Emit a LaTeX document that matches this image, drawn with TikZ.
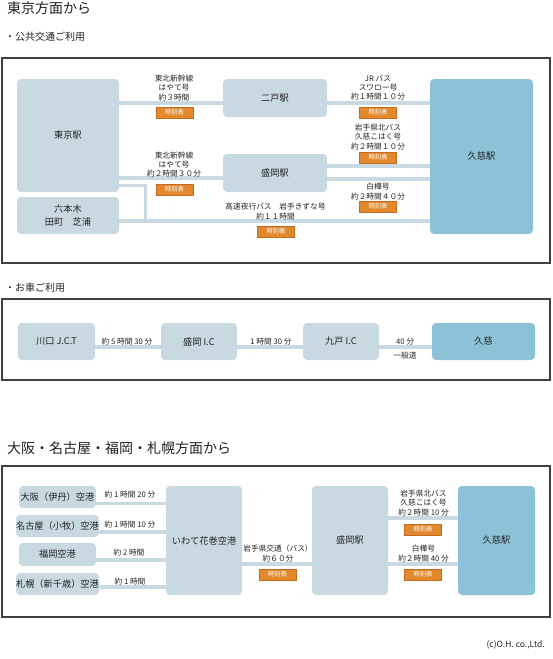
\documentclass[tikz,border=0pt]{standalone}
\usepackage{fontspec}
\setmainfont{Noto Sans CJK JP}
\definecolor{boxgray}{HTML}{C9D9E2}
\definecolor{boxblue}{HTML}{8CC2D7}
\definecolor{btnorange}{HTML}{E2892E}
\definecolor{btnedge}{HTML}{C46A1C}
\definecolor{txt}{HTML}{222222}
\begin{document}
\begin{tikzpicture}[x=1pt,y=-1pt,
    stn/.style={fill=boxgray, rounded corners=4pt, inner sep=0pt, text=txt, font=\fontsize{9.2}{13}\selectfont, align=center},
    goal/.style={stn, fill=boxblue},
    rail/.style={draw=boxgray, line width=3.5pt},
    info/.style={inner sep=0pt, text=txt, font=\fontsize{7.7}{9.2}\selectfont, align=center},
    btn/.style={fill=btnorange, draw=btnedge, line width=0.6pt, text=white, minimum width=37pt, minimum height=11pt, inner sep=0pt, font=\fontsize{6.3}{7}\selectfont},
    panel/.style={draw=black!75, line width=1.2pt},
    heading/.style={anchor=west, inner sep=0pt, text=txt, font=\fontsize{14}{16}\selectfont},
    subhead/.style={anchor=west, inner sep=0pt, text=txt, font=\fontsize{10}{12}\selectfont}]
    \useasboundingbox (0,0) rectangle (552,659);
    % Tokyo
    \node[heading] (h1) at (7,8) {東京方面から};
    \node[subhead] (s1) at (5,37) {・公共交通ご利用};
    \draw[panel] (2,58) rectangle (550,263);
    \node[stn, minimum width=102pt, minimum height=113pt] (tokyo) at (68,135.5) {東京駅};
    \node[stn, minimum width=102pt, minimum height=37pt] (roppongi) at (68,215.5) {六本木\\田町　芝浦};
    \node[stn, minimum width=104pt, minimum height=38pt] (ninohe) at (275,98) {二戸駅};
    \node[stn, minimum width=104pt, minimum height=38pt] (morioka) at (275,173) {盛岡駅};
    \node[goal, minimum width=103pt, minimum height=155pt] (kuji) at (481.5,156.5) {久慈駅};
    \coordinate (bend) at (145.5,221);
    \draw[rail] (tokyo.east |- 0,103) -- (ninohe.west |- 0,103);
    \draw[rail] (tokyo.east |- 0,178) -- (morioka.west |- 0,178);
    \draw[rail] (tokyo.east |- 0,185.5) -| (bend);
    \draw[rail] (roppongi.east |- 0,221) -- (kuji.west |- 0,221);
    \draw[rail] (ninohe.east |- 0,103) -- (kuji.west |- 0,103);
    \draw[rail] (morioka.east |- 0,166) -- (kuji.west |- 0,166);
    \draw[rail] (morioka.east |- 0,179) -- (kuji.west |- 0,179);
    \node[info] (t1) at (174,88) {東北新幹線\\はやて号\\約３時間};
    \node[btn] (b1) at (174.5,112.5) {時刻表};
    \node[info] (t2) at (174,164.5) {東北新幹線\\はやて号\\約２時間３０分};
    \node[btn] (b2) at (174.5,189.5) {時刻表};
    \node[info] (t3) at (275.5,211.5) {高速夜行バス　岩手きずな号\\約１１時間};
    \node[btn] (b3) at (276,231.5) {時刻表};
    \node[info] (t4) at (378,87.5) {JR バス\\スワロー号\\約１時間１０分};
    \node[btn] (b4) at (378,112.5) {時刻表};
    \node[info] (t5) at (378,137) {岩手県北バス\\久慈こはく号\\約２時間１０分};
    \node[btn] (b5) at (378,157.5) {時刻表};
    \node[info] (t6) at (378,191.5) {白樺号\\約２時間４０分};
    \node[btn] (b6) at (378,206.5) {時刻表};
    % Car
    \node[subhead] (s2) at (5,288) {・お車ご利用};
    \draw[panel] (2,299) rectangle (550,380);
    \node[stn, minimum width=77pt, minimum height=37pt] (kawaguchi) at (56.5,341.5) {川口 J.C.T};
    \node[stn, minimum width=76pt, minimum height=37pt] (moriokaic) at (199,341.5) {盛岡 I.C};
    \node[stn, minimum width=76pt, minimum height=37pt] (kunohe) at (341,341.5) {九戸 I.C};
    \node[goal, minimum width=103pt, minimum height=37pt] (kujiic) at (483.5,341.5) {久慈};
    \draw[rail] (kawaguchi.east |- 0,347) -- (moriokaic.west |- 0,347);
    \draw[rail] (moriokaic.east |- 0,347) -- (kunohe.west |- 0,347);
    \draw[rail] (kunohe.east |- 0,347) -- (kujiic.west |- 0,347);
    \node[info] (c1) at (127,341.5) {約 5 時間 30 分};
    \node[info] (c2) at (271,341.5) {1 時間 30 分};
    \node[info] (c3) at (405,341.5) {40 分};
    \node[info] (c4) at (405,356) {一般道};
    % Osaka etc.
    \node[heading] (h2) at (7,448) {大阪・名古屋・福岡・札幌方面から};
    \draw[panel] (2,466) rectangle (550,617);
    \node[stn, minimum width=77pt, minimum height=22pt] (osaka) at (57.5,497) {大阪（伊丹）空港};
    \node[stn, minimum width=77pt, minimum height=22pt] (nagoya) at (57.5,526) {名古屋（小牧）空港};
    \node[stn, minimum width=77pt, minimum height=23pt] (fukuoka) at (57.5,554.5) {福岡空港};
    \node[stn, minimum width=77pt, minimum height=22pt] (sapporo) at (57.5,584) {札幌（新千歳）空港};
    \node[stn, minimum width=76pt, minimum height=109pt] (hanamaki) at (204,540.5) {いわて花巻空港};
    \node[stn, minimum width=76pt, minimum height=109pt] (morioka3) at (350,540.5) {盛岡駅};
    \node[goal, minimum width=77pt, minimum height=109pt] (kuji3) at (496.5,540.5) {久慈駅};
    \draw[rail] (osaka.east |- 0,503.5) -- (hanamaki.west |- 0,503.5);
    \draw[rail] (nagoya.east |- 0,532) -- (hanamaki.west |- 0,532);
    \draw[rail] (fukuoka.east |- 0,560) -- (hanamaki.west |- 0,560);
    \draw[rail] (sapporo.east |- 0,587) -- (hanamaki.west |- 0,587);
    \draw[rail] (hanamaki.east |- 0,564) -- (morioka3.west |- 0,564);
    \draw[rail] (morioka3.east |- 0,518) -- (kuji3.west |- 0,518);
    \draw[rail] (morioka3.east |- 0,564) -- (kuji3.west |- 0,564);
    \node[info] (a1) at (130,495) {約 1 時間 20 分};
    \node[info] (a2) at (130,524.5) {約 1 時間 10 分};
    \node[info] (a3) at (129,553) {約 2 時間};
    \node[info] (a4) at (130,582) {約 1 時間};
    \node[info] (a5) at (278,553.5) {岩手県交通（バス）\\約６０分};
    \node[btn] (b7) at (277.5,574.5) {時刻表};
    \node[info] (a6) at (423.5,503) {岩手県北バス\\久慈こはく号\\約２時間 10 分};
    \node[btn] (b8) at (423,529.5) {時刻表};
    \node[info] (a7) at (423.5,553.5) {白樺号\\約２時間 40 分};
    \node[btn] (b9) at (423,574.5) {時刻表};
    \node[inner sep=0pt, anchor=east, text=txt, font=\fontsize{8.5}{10}\selectfont] (copy) at (545,645) {(c)O.H. co.,Ltd.};
\end{tikzpicture}
\end{document}
